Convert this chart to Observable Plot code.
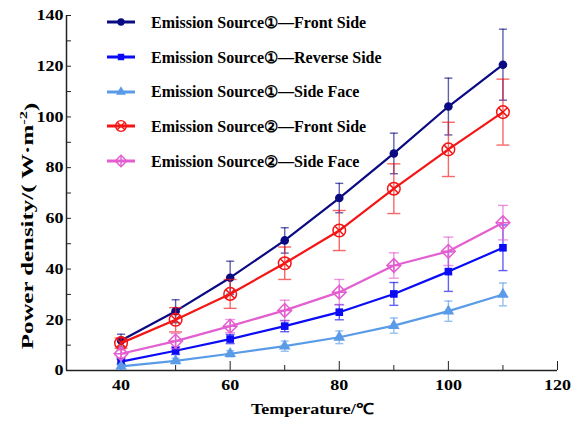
<!DOCTYPE html>
<html>
<head>
<meta charset="utf-8">
<script src="https://cdn.jsdelivr.net/npm/d3@7"></script>
<script src="https://cdn.jsdelivr.net/npm/@observablehq/plot@0.6"></script>
<style>
  html, body { margin: 0; padding: 0; background: #fff; }
  #wrap { position: relative; width: 571px; height: 421px; font-family: "Liberation Serif", "Times New Roman", serif; }
  #legend { position: absolute; left: 0; top: 0; }
  .row { position: absolute; left: 105px; height: 18px; display: flex; align-items: center; white-space: nowrap; }
  .row span { display: inline-block; font-weight: bold; font-size: 16px; color: #000; margin-left: 14px; }
</style>
</head>
<body>
<div id="wrap"><div id="legend"></div></div>
<script>
// ---- data ----
const temps = [40, 50, 60, 70, 80, 90, 100, 110];
const seriesNames = [
  "Emission Source①—Front Side",
  "Emission Source①—Reverse Side",
  "Emission Source①—Side Face",
  "Emission Source②—Front Side",
  "Emission Source②—Side Face"
];
const s1Front      = [11.8, 23.4, 36.6, 51.3, 68.0, 85.6, 104.1, 120.6];
const s1FrontErr   = [2.5, 4.5, 6.5, 5.0, 5.8, 8.0, 11.2, 14.0];
const s1Reverse    = [3.5, 7.8, 12.4, 17.5, 23.0, 30.2, 39.0, 48.4];
const s1ReverseErr = [1.0, 1.5, 1.8, 2.2, 3.0, 4.5, 7.8, 9.0];
const s1Side       = [1.6, 3.8, 6.6, 9.6, 13.1, 17.7, 23.4, 30.0];
const s1SideErr    = [0.8, 1.0, 1.2, 2.0, 2.5, 3.0, 4.0, 4.5];
const s2Front      = [10.8, 20.0, 30.2, 42.3, 55.2, 71.7, 87.2, 101.9];
const s2FrontErr   = [2.0, 4.8, 5.7, 6.4, 7.9, 9.8, 10.7, 13.0];
const s2Side       = [6.6, 11.6, 17.5, 23.7, 30.9, 41.4, 47.0, 58.3];
const s2SideErr    = [1.5, 3.0, 2.6, 4.0, 5.0, 5.0, 5.6, 6.8];
const xTickLabels = [40, 60, 80, 100, 120];
const xMinorTicks = [50, 70, 90, 110];
const yTickLabels = [0, 20, 40, 60, 80, 100, 120, 140];
const yMinorTicks = [10, 30, 50, 70, 90, 110, 130];
const xTitle = "Temperature/℃";
const yTitle = ["Power density/( W·m", "-2", ")"];

// ---- styles ----
const values = [s1Front, s1Reverse, s1Side, s2Front, s2Side];
const errors = [s1FrontErr, s1ReverseErr, s1SideErr, s2FrontErr, s2SideErr];
const styles = [
  {color: "#0a0a82", capHalf: 4,   marks: [{symbol: "circle", r: 4.3, fill: true}]},
  {color: "#0b0bf5", capHalf: 4.5, marks: [{symbol: "square", r: 4.3, fill: true}]},
  {color: "#5a9be8", capHalf: 4,   marks: [{symbol: "triangle", r: 4.3, fill: true}]},
  {color: "#f41515", capHalf: 6.5, marks: [{symbol: "circle", r: 6.3, fill: false}, {symbol: "times", r: 4.2, fill: false}]},
  {color: "#e35ed0", capHalf: 5,   marks: [{symbol: "diamond2", r: 6.2, fill: false}, {symbol: "plus", r: 4.4, fill: false}]}
];

const capSymbol = (half) => ({draw(context) { context.moveTo(-half, 0); context.lineTo(half, 0); }});

const marks = [];
const serif = "Liberation Serif, Times New Roman, serif";

// axes
marks.push(Plot.ruleX([30], {stroke: "#222", strokeWidth: 1.5}));
marks.push(Plot.ruleY([0], {stroke: "#222", strokeWidth: 1.5}));
marks.push(Plot.axisY(yTickLabels, {tickSize: 0, tickPadding: 3, fontSize: 15, fontWeight: "bold", fill: "#000", label: null, className: "ylab"}));
marks.push(Plot.axisY(yTickLabels.concat(yMinorTicks), {tickSize: 5, dx: 5, text: null, label: null, stroke: "#222"}));
marks.push(Plot.axisX(xTickLabels, {tickSize: 0, tickPadding: 9, fontSize: 15, fontWeight: "bold", fill: "#000", label: null, className: "xlab"}));
marks.push(Plot.axisX(xTickLabels, {tickSize: 9, dy: -9, text: null, label: null, stroke: "#222"}));
marks.push(Plot.axisX(xMinorTicks, {tickSize: 5, dy: -5, text: null, label: null, stroke: "#222"}));
marks.push(Plot.text([xTitle], {frameAnchor: "bottom", dy: 43, fontSize: 15, fontWeight: "bold", fill: "#000", text: d => d, className: "xtitle"}));
marks.push(Plot.text([yTitle.join("")], {frameAnchor: "left", textAnchor: "middle", dx: -39, dy: 33, rotate: -90, fontSize: 15, fontWeight: "bold", fill: "#000", text: d => d, className: "ytitle"}));

values.forEach((vals, i) => {
  const rows = temps.map((t, j) => ({t, v: vals[j], e: errors[i][j]}));
  const st = styles[i];
  marks.push(Plot.line(rows, {x: "t", y: "v", stroke: st.color, strokeWidth: 2.2}));
  marks.push(Plot.ruleX(rows, {x: "t", y1: d => d.v - d.e, y2: d => d.v + d.e, stroke: st.color, strokeOpacity: 0.65, strokeWidth: 1.4}));
  marks.push(Plot.dot(rows, {x: "t", y: d => d.v + d.e, symbol: capSymbol(st.capHalf), stroke: st.color, strokeOpacity: 0.65, strokeWidth: 1.4, fill: "none"}));
  marks.push(Plot.dot(rows, {x: "t", y: d => d.v - d.e, symbol: capSymbol(st.capHalf), stroke: st.color, strokeOpacity: 0.65, strokeWidth: 1.4, fill: "none"}));
  st.marks.forEach(m => {
    marks.push(Plot.dot(rows, {x: "t", y: "v", symbol: m.symbol, r: m.r,
      fill: m.fill ? st.color : "none", stroke: m.fill ? "none" : st.color, strokeWidth: 1.5}));
  });
});

const chart = Plot.plot({
  width: 571,
  height: 421,
  marginLeft: 66,
  marginRight: 14,
  marginTop: 15,
  marginBottom: 51,
  style: {fontFamily: serif, background: "#fff"},
  x: {domain: [30, 120], axis: null},
  y: {domain: [0, 140], axis: null},
  marks
});
document.getElementById("wrap").prepend(chart);

// horizontal stretch of text glyphs, as in the reference (appended to the existing transform)
function stretch(sel, sx, sy) {
  sel.each(function() {
    const t = this.getAttribute("transform");
    if (t) this.setAttribute("transform", `${t} scale(${sx},${sy})`);
  });
}
stretch(d3.select(chart).selectAll(".ylab text, .xlab text, .xtitle text"), 1.2, 1);

// superscript in y title
const yt = d3.select(chart).select(".ytitle text");
if (!yt.empty()) {
  yt.text(null);
  yt.append("tspan").text(yTitle[0]);
  yt.append("tspan").attr("dy", "-0.5em").attr("font-size", "10px").text(yTitle[1]);
  yt.append("tspan").attr("dy", "0.5em").text(yTitle[2]);
  stretch(yt, 1.66, 1.1);
}

// legend
const legend = d3.select("#legend");
const rowTops = [13, 48, 82.5, 117, 152];
seriesNames.forEach((name, i) => {
  const st = styles[i];
  const row = legend.append("div").attr("class", "row").style("top", rowTops[i] + "px");
  const svg = row.append("svg").attr("width", 32).attr("height", 18);
  svg.append("line").attr("x1", 2).attr("x2", 30).attr("y1", 9).attr("y2", 9)
    .attr("stroke", st.color).attr("stroke-width", 3);
  st.marks.forEach(m => {
    const sym = {circle: d3.symbolCircle, square: d3.symbolSquare, triangle: d3.symbolTriangle,
      times: d3.symbolTimes, diamond2: d3.symbolDiamond2, plus: d3.symbolPlus}[m.symbol];
    const r = m.r * 0.85;
    svg.append("path").attr("transform", "translate(16,9)")
      .attr("d", d3.symbol(sym, r * r * Math.PI)())
      .attr("fill", m.fill ? st.color : "none")
      .attr("stroke", m.fill ? "none" : st.color).attr("stroke-width", 1.4);
  });
  row.append("span").text(name);
});
</script>
</body>
</html>
